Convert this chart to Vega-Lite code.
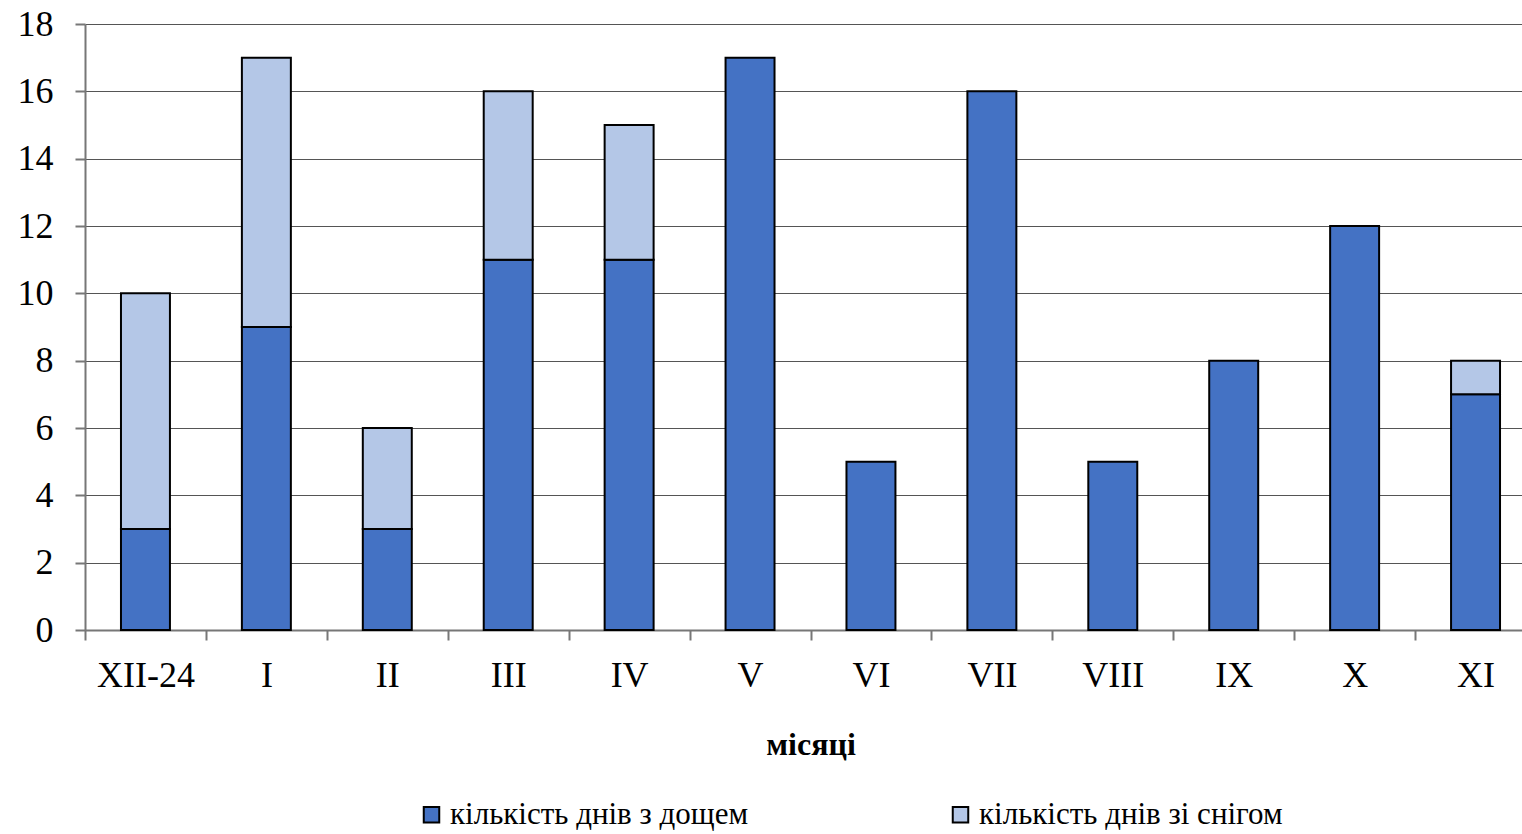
{
  "$schema": "https://vega.github.io/schema/vega-lite/v6.json",
  "width": 1451,
  "height": 606,
  "autosize": {"type": "none"},
  "padding": {"left": 85, "top": 24, "right": 0, "bottom": 204},
  "background": "white",
  "config": {"view": {"stroke": null}, "font": "Liberation Serif"},
  "data": {
    "values": [
      {"month": "XII-24", "type": "кількість днів з дощем", "ord": 1, "days": 3},
      {"month": "XII-24", "type": "кількість днів зі снігом", "ord": 2, "days": 7},
      {"month": "I", "type": "кількість днів з дощем", "ord": 1, "days": 9},
      {"month": "I", "type": "кількість днів зі снігом", "ord": 2, "days": 8},
      {"month": "II", "type": "кількість днів з дощем", "ord": 1, "days": 3},
      {"month": "II", "type": "кількість днів зі снігом", "ord": 2, "days": 3},
      {"month": "III", "type": "кількість днів з дощем", "ord": 1, "days": 11},
      {"month": "III", "type": "кількість днів зі снігом", "ord": 2, "days": 5},
      {"month": "IV", "type": "кількість днів з дощем", "ord": 1, "days": 11},
      {"month": "IV", "type": "кількість днів зі снігом", "ord": 2, "days": 4},
      {"month": "V", "type": "кількість днів з дощем", "ord": 1, "days": 17},
      {"month": "VI", "type": "кількість днів з дощем", "ord": 1, "days": 5},
      {"month": "VII", "type": "кількість днів з дощем", "ord": 1, "days": 16},
      {"month": "VIII", "type": "кількість днів з дощем", "ord": 1, "days": 5},
      {"month": "IX", "type": "кількість днів з дощем", "ord": 1, "days": 8},
      {"month": "X", "type": "кількість днів з дощем", "ord": 1, "days": 12},
      {"month": "XI", "type": "кількість днів з дощем", "ord": 1, "days": 7},
      {"month": "XI", "type": "кількість днів зі снігом", "ord": 2, "days": 1}
    ]
  },
  "mark": {"type": "bar", "stroke": "black", "strokeWidth": 2, "width": {"band": 0.405}},
  "encoding": {
    "x": {
      "field": "month",
      "type": "nominal",
      "sort": ["XII-24", "I", "II", "III", "IV", "V", "VI", "VII", "VIII", "IX", "X", "XI"],
      "scale": {"paddingInner": 0, "paddingOuter": 0},
      "axis": {
        "title": "місяці",
        "titleFont": "Liberation Serif",
        "titleFontSize": 32,
        "titleFontWeight": "bold",
        "titleColor": "black",
        "titlePadding": 36,
        "labelAngle": 0,
        "labelFont": "Liberation Serif",
        "labelFontSize": 36,
        "labelColor": "black",
        "labelPadding": 18,
        "tickBand": "extent",
        "tickSize": 10,
        "tickColor": "#777",
        "domainColor": "#777",
        "domainWidth": 2,
        "tickWidth": 2
      }
    },
    "y": {
      "field": "days",
      "type": "quantitative",
      "stack": "zero",
      "scale": {"domain": [0, 18]},
      "axis": {
        "title": null,
        "values": [0, 2, 4, 6, 8, 10, 12, 14, 16, 18],
        "labelFont": "Liberation Serif",
        "labelFontSize": 36,
        "labelColor": "black",
        "labelPadding": 22,
        "tickSize": 10,
        "tickColor": "#777",
        "tickWidth": 2,
        "domainColor": "#777",
        "domainWidth": 2,
        "grid": true,
        "gridColor": "#555",
        "gridWidth": 1.2
      }
    },
    "color": {
      "field": "type",
      "type": "nominal",
      "scale": {
        "domain": ["кількість днів з дощем", "кількість днів зі снігом"],
        "range": ["#4472C4", "#B4C7E7"]
      },
      "legend": {
        "title": null,
        "orient": "none",
        "legendX": 331,
        "legendY": 775,
        "direction": "horizontal",
        "columns": 2,
        "columnPadding": 196,
        "symbolType": "square",
        "symbolSize": 240,
        "symbolStrokeColor": "black",
        "symbolStrokeWidth": 2,
        "symbolOffset": 0,
        "labelFont": "Liberation Serif",
        "labelFontSize": 31,
        "labelColor": "black",
        "labelOffset": 3,
        "labelLimit": 600
      }
    },
    "order": {"field": "ord", "type": "quantitative"}
  }
}
